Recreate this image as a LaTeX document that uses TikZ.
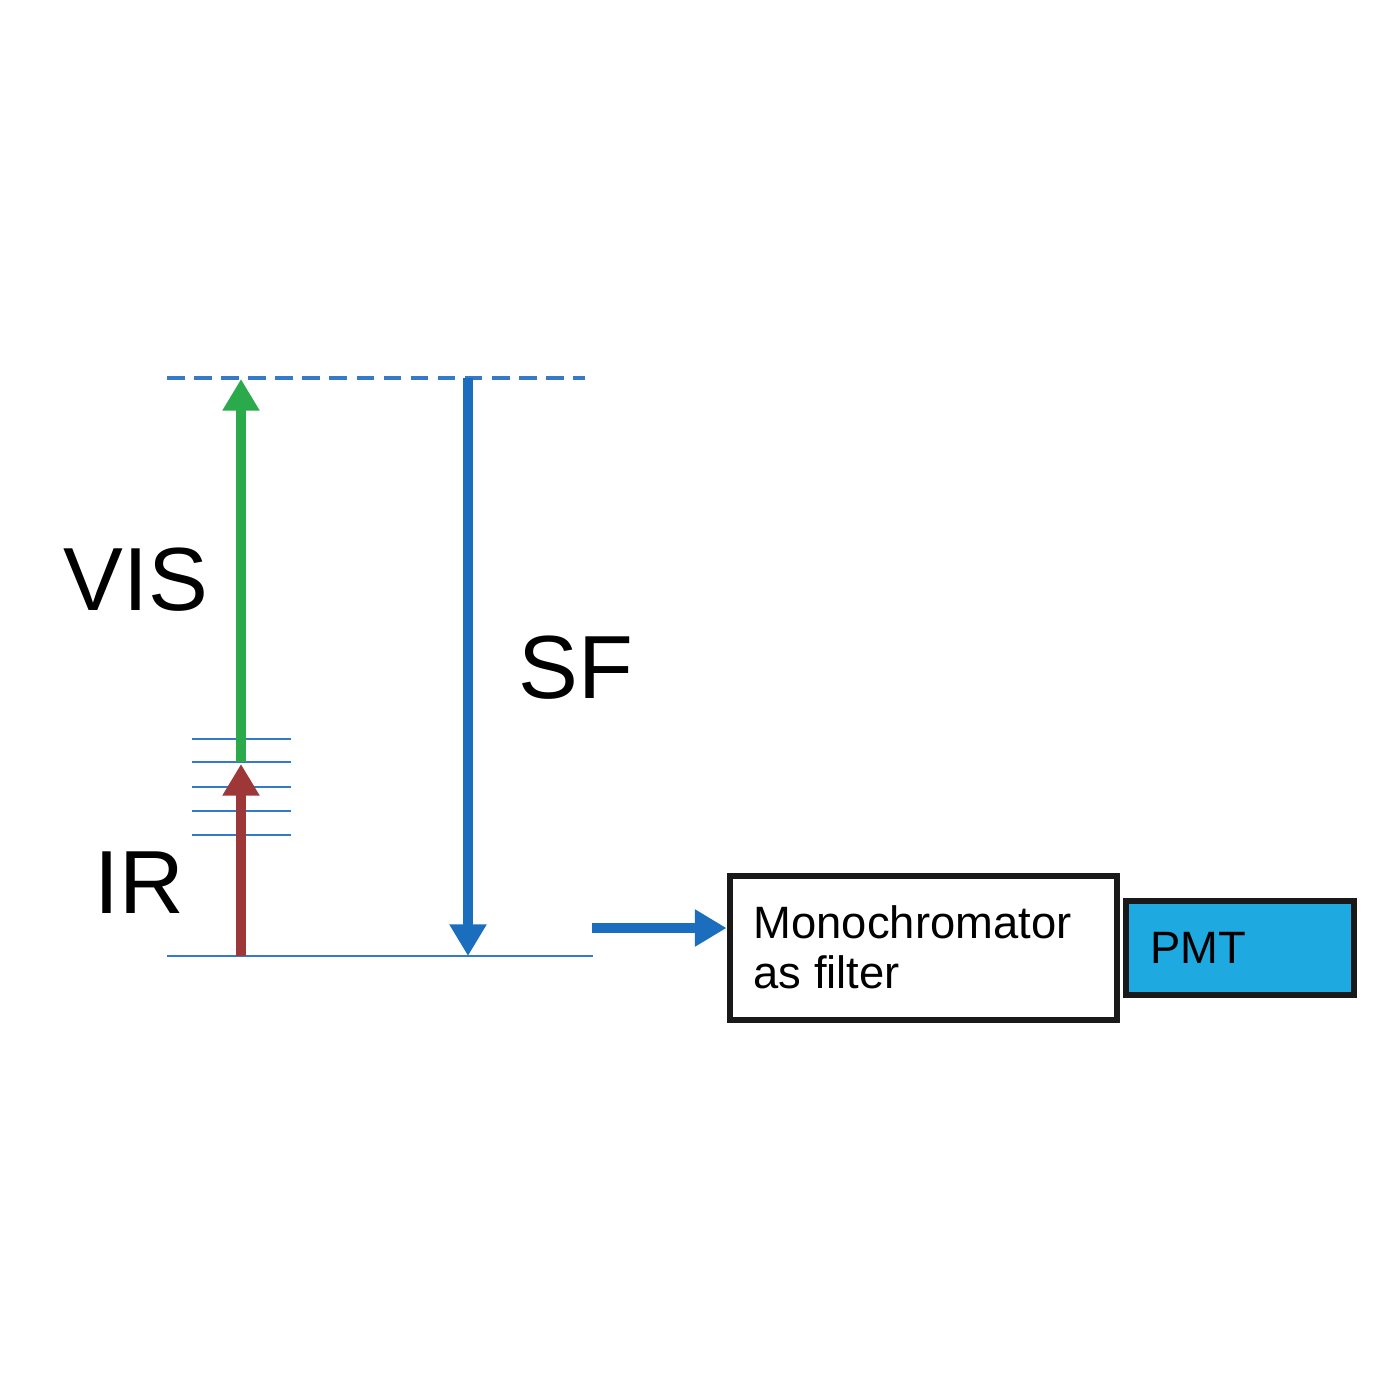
\documentclass[tikz,border=0pt]{standalone}
\usepackage{fontspec}
\setmainfont{Liberation Sans}
\usetikzlibrary{arrows.meta}
\definecolor{visgreen}{RGB}{42,170,74}
\definecolor{irred}{RGB}{158,56,56}
\definecolor{sfblue}{RGB}{27,110,190}
\definecolor{lvlblue}{RGB}{52,122,200}
\definecolor{pmtfill}{RGB}{30,170,225}
\tikzset{
  level/.style={draw=lvlblue, line width=0.8pt},
  virtual/.style={draw=lvlblue, line width=1.1pt, dash pattern=on 5pt off 2.7pt},
  photon/.style={line width=2.8pt, -{Triangle[width=10pt,length=9pt]}},
  bigtext/.style={inner sep=0pt, anchor=base west, font=\fontsize{25.5}{30}\selectfont},
  boxtext/.style={inner sep=0pt, anchor=base west, font=\fontsize{12.9}{15}\selectfont},
  boxnode/.style={draw=black!90, line width=1.9pt, inner sep=0pt}
}
\begin{document}
\begin{tikzpicture}[x=0.01cm,y=-0.01cm]
\useasboundingbox (0,0) rectangle (1400,1400);
% energy levels
\coordinate (vl) at (167,378); \coordinate (vr) at (585,378);
\coordinate (gl) at (167,956); \coordinate (gr) at (593,956);
\draw[virtual] (vl) -- (vr);
\draw[level] (gl) -- (gr);
\foreach \y/\n in {739/1,762/2,787/3,811/4,835/5}{
  \coordinate (l\n a) at (192,\y); \coordinate (l\n b) at (291,\y);
  \draw[level] (l\n a) -- (l\n b);
}
% arrows
\coordinate (irs) at (241,956); \coordinate (ire) at (241,764);
\coordinate (viss) at (241,762); \coordinate (vise) at (241,379);
\coordinate (sfs) at (468,378); \coordinate (sfe) at (468,956);
\draw[photon, irred] (irs) -- (ire);
\draw[photon, visgreen] (viss) -- (vise);
\draw[photon, sfblue, line width=2.6pt] (sfs) -- (sfe);
% labels
\node[bigtext] (vis) at (63,610) {VIS};
\node[bigtext] (ir) at (94,913) {IR};
\node[bigtext] (sf) at (518,698) {SF};
% boxes
\node[boxnode, fill=white, minimum width=3.87cm, minimum height=1.44cm] (mono) at (923.5,948) {};
\node[boxnode, fill=pmtfill, minimum width=2.28cm, minimum height=0.94cm] (pmt) at (1240,948) {};
\node[boxtext] (mt1) at (753,938) {Monochromator};
\node[boxtext] (mt2) at (753,988) {as filter};
\node[boxtext] (pt) at (1150,963) {PMT};
\coordinate (out) at (592,928);
\draw[photon, sfblue, line width=2.6pt] (out) -- (mono.west |- out);
\end{tikzpicture}
\end{document}
